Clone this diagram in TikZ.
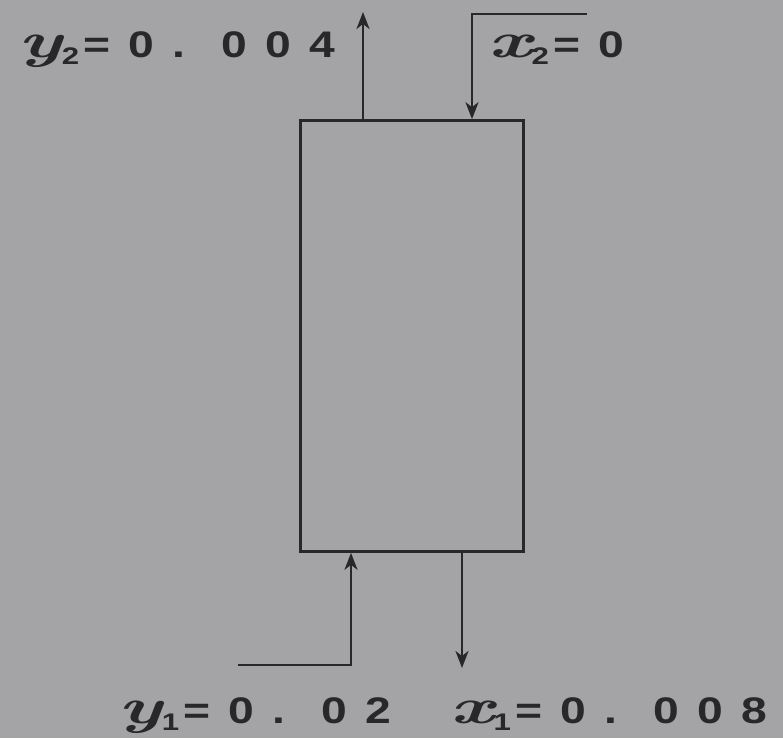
\documentclass[tikz,border=0pt]{standalone}
\usepackage{fontspec}
\usetikzlibrary{arrows.meta}
\newfontfamily\labnum{Liberation Sans Bold}[LetterSpace=40,WordSpace=0.8]
\newfontfamily\labsub{Liberation Sans Bold}
\definecolor{bg}{RGB}{164,164,166}
\definecolor{ink}{RGB}{40,40,42}
\newcommand{\lblvar}[3]{\scalebox{1.55}[1]{\fontsize{50}{50}\selectfont\bfseries\itshape #1}\raisebox{-7pt}{\scalebox{1.3}[1]{\labsub\fontsize{24}{24}\selectfont #2}}\hspace{4pt}\scalebox{1.25}[1]{\labnum\fontsize{37}{37}\selectfont #3}}
\tikzset{
  line/.style={draw=ink,line width=2.6pt},
  arr/.style={line,-{Stealth[length=17pt,width=13pt,inset=5pt]}},
  lab/.style={text=ink,inner sep=0pt,anchor=base west}
}
\begin{document}
\begin{tikzpicture}[x=1pt,y=-1pt]
\fill[bg] (0,0) rectangle (783,738);
\useasboundingbox (0,0) rectangle (783,738);
\node[line,minimum width=223pt,minimum height=431pt,inner sep=0pt] (col) at (412,336) {};
% top outlet (gas)
\coordinate (t1) at (363,12);
\draw[arr] (col.north -| t1) -- (t1);
% top inlet (liquid)
\coordinate (t2a) at (587,14);
\coordinate (t2b) at (472,14);
\draw[arr] (t2a) -- (t2b) -- (col.north -| t2b);
% bottom inlet (gas)
\coordinate (b1a) at (238,665);
\coordinate (b1b) at (351,665);
\draw[arr] (b1a) -- (b1b) -- (col.south -| b1b);
% bottom outlet (liquid)
\coordinate (b2) at (462,668);
\draw[arr] (col.south -| b2) -- (b2);
% labels
\node[lab] (ly2) at (18,58) {\lblvar{y}{2}{=0. 004}};
\node[lab] (lx2) at (488,58) {\lblvar{x}{2}{=0}};
\node[lab] (ly1) at (118,723) {\lblvar{y}{1}{=0. 02}};
\node[lab] (lx1) at (450,723) {\lblvar{x}{1}{=0. 008}};
\end{tikzpicture}
\end{document}
